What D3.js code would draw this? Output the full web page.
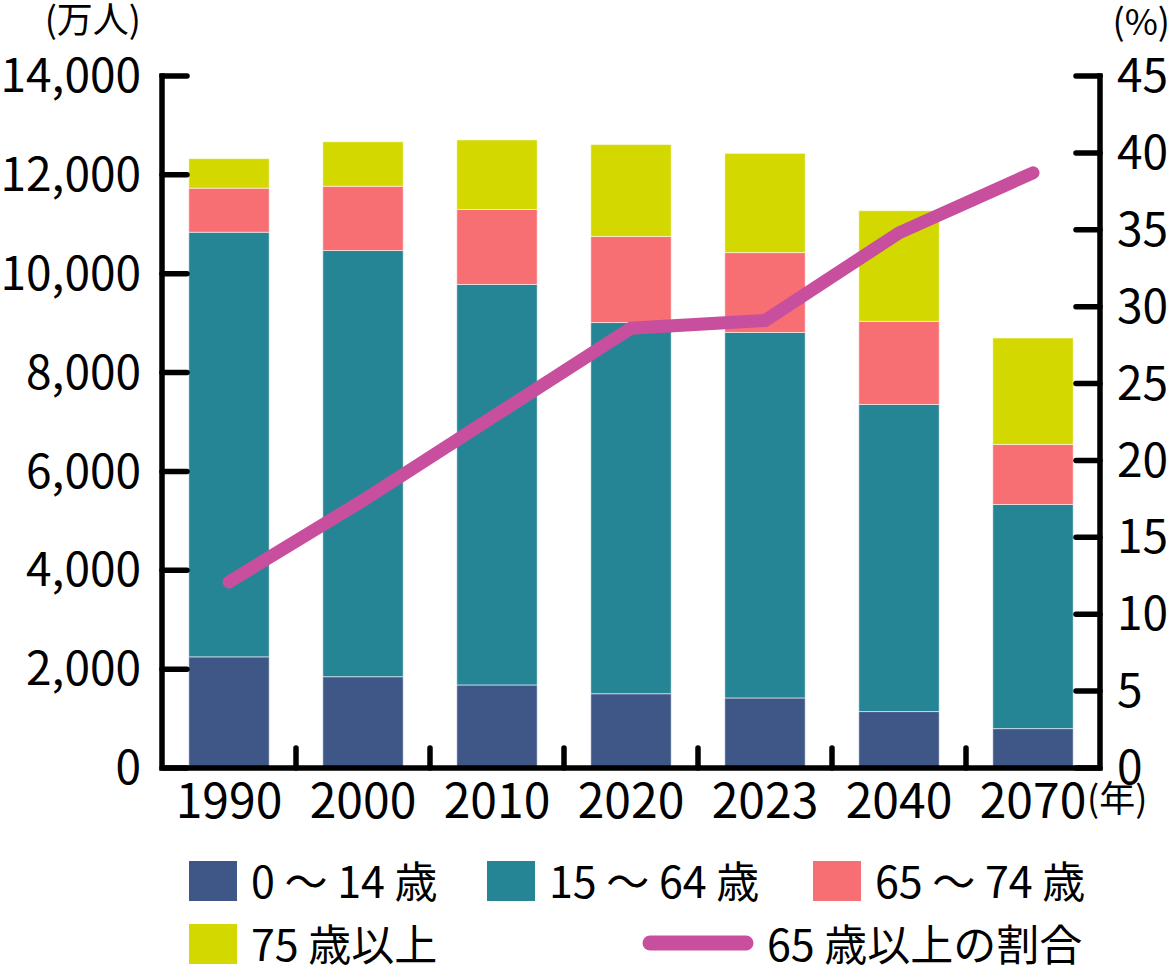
<!DOCTYPE html>
<html lang="ja">
<head>
  <meta charset="UTF-8">
  <title>人口の推移</title>
  <script src="https://d3js.org/d3.v7.min.js"></script>
  <style>
    body { margin: 0; background: #fff; }
    svg { display: block; font-family: "Noto Sans CJK JP", "Noto Sans", sans-serif; }
  </style>
</head>
<body>
  <div id="chart"></div>

  <script>
    // data (万人 / %)
    const years = ["1990", "2000", "2010", "2020", "2023", "2040", "2070"];
    const age0to14 = [2249, 1847, 1680, 1503, 1417, 1142, 797];
    const age15to64 = [8590, 8622, 8103, 7509, 7395, 6213, 4535];
    const age65to74 = [892, 1301, 1517, 1742, 1615, 1681, 1213];
    const age75plus = [597, 900, 1407, 1860, 2008, 2239, 2155];
    const ratio65plus = [12.1, 17.4, 23.0, 28.6, 29.1, 34.8, 38.7];

    const leftTicks = [0, 2000, 4000, 6000, 8000, 10000, 12000, 14000];
    const rightTicks = [0, 5, 10, 15, 20, 25, 30, 35, 40, 45];

    const seriesNames = ["0 ～ 14 歳", "15 ～ 64 歳", "65 ～ 74 歳", "75 歳以上"];
    const seriesColors = ["#3f5786", "#268595", "#f76e73", "#d3d900"];
    const lineName = "65 歳以上の割合";
    const lineColor = "#c84f9e";

    const width = 1170, height = 967;
    const plot = { left: 162, right: 1100, top: 76, bottom: 768 };

    const svg = d3.select("#chart").append("svg")
      .attr("width", width)
      .attr("height", height);

    const x = d3.scaleBand()
      .domain(years)
      .range([plot.left, plot.right])
      .paddingInner(0.4)
      .paddingOuter(0.2);

    const y = d3.scaleLinear().domain([0, 14000]).range([plot.bottom, plot.top]);
    const y2 = d3.scaleLinear().domain([0, 45]).range([plot.bottom, plot.top]);

    // stacked bars
    const rows = years.map((yr, i) => ({
      year: yr,
      s0: age0to14[i], s1: age15to64[i], s2: age65to74[i], s3: age75plus[i]
    }));
    const stack = d3.stack().keys(["s0", "s1", "s2", "s3"])(rows);

    svg.append("g").selectAll("g")
      .data(stack)
      .join("g")
      .attr("fill", (d, i) => seriesColors[i])
      .selectAll("rect")
      .data(d => d)
      .join("rect")
      .attr("x", d => x(d.data.year))
      .attr("width", x.bandwidth())
      .attr("y", d => y(d[1]))
      .attr("height", d => y(d[0]) - y(d[1]))
      .attr("stroke", "rgba(255,255,255,0.55)")
      .attr("stroke-width", 1);

    // 65+ ratio line
    const line = d3.line()
      .x((d, i) => x(years[i]) + x.bandwidth() / 2)
      .y(d => y2(d));

    svg.append("path")
      .datum(ratio65plus)
      .attr("d", line)
      .attr("fill", "none")
      .attr("stroke", lineColor)
      .attr("stroke-width", 13)
      .attr("stroke-linecap", "round")
      .attr("stroke-linejoin", "miter");

    // axes
    const axisW = 5.5;
    const axisG = svg.append("g")
      .attr("stroke", "#000")
      .attr("stroke-width", axisW)
      .attr("stroke-linecap", "round");

    axisG.append("path")
      .attr("fill", "none")
      .attr("stroke-linecap", "square")
      .attr("d", `M${plot.left},${plot.top}V${plot.bottom}H${plot.right}V${plot.top}`);

    axisG.selectAll(".lt")
      .data(leftTicks)
      .join("line")
      .attr("x1", plot.left).attr("x2", plot.left + 25)
      .attr("y1", d => y(d)).attr("y2", d => y(d));

    axisG.selectAll(".rt")
      .data(rightTicks)
      .join("line")
      .attr("x1", plot.right - 24).attr("x2", plot.right)
      .attr("y1", d => y2(d)).attr("y2", d => y2(d));

    // ticks between categories
    axisG.selectAll(".bt")
      .data(years.slice(1))
      .join("line")
      .attr("x1", d => x(d) - x.step() * x.paddingInner() / 2)
      .attr("x2", d => x(d) - x.step() * x.paddingInner() / 2)
      .attr("y1", plot.bottom)
      .attr("y2", plot.bottom - 20);

    // tick labels
    const fmt = d3.format(",");
    svg.append("g").selectAll("text")
      .data(leftTicks)
      .join("text")
      .attr("x", 141)
      .attr("y", d => y(d))
      .attr("dy", "0.35em")
      .attr("text-anchor", "end")
      .attr("font-size", 46)
      .text(d => fmt(d));

    svg.append("g").selectAll("text")
      .data(rightTicks)
      .join("text")
      .attr("x", 1117)
      .attr("y", d => y2(d))
      .attr("dy", "0.35em")
      .attr("font-size", 46)
      .text(d => d);

    svg.append("g").selectAll("text")
      .data(years)
      .join("text")
      .attr("x", d => x(d) + x.bandwidth() / 2)
      .attr("y", 818)
      .attr("text-anchor", "middle")
      .attr("font-size", 48)
      .text(d => d);

    // unit labels
    svg.append("text").attr("x", 141).attr("y", 33)
      .attr("text-anchor", "end").attr("font-size", 36).text("(万人)");
    svg.append("text").attr("x", 1170).attr("y", 35)
      .attr("text-anchor", "end").attr("font-size", 36).text("(%)");
    svg.append("text").attr("x", 1087).attr("y", 812)
      .attr("font-size", 36).text("(年)");

    // legend
    const legendItems = [
      { name: seriesNames[0], color: seriesColors[0], x: 189, y: 861 },
      { name: seriesNames[1], color: seriesColors[1], x: 487, y: 861 },
      { name: seriesNames[2], color: seriesColors[2], x: 813, y: 861 },
      { name: seriesNames[3], color: seriesColors[3], x: 189, y: 924 }
    ];

    const lg = svg.append("g").attr("font-size", 43);
    legendItems.forEach(d => {
      lg.append("rect")
        .attr("x", d.x).attr("y", d.y)
        .attr("width", 48).attr("height", 40)
        .attr("fill", d.color);
      lg.append("text")
        .attr("x", d.x + 62).attr("y", d.y + 37)
        .text(d.name);
    });

    lg.append("line")
      .attr("x1", 650).attr("x2", 746)
      .attr("y1", 943).attr("y2", 943)
      .attr("stroke", lineColor)
      .attr("stroke-width", 15)
      .attr("stroke-linecap", "round");
    lg.append("text")
      .attr("x", 767).attr("y", 961)
      .text(lineName);
  </script>
</body>
</html>
